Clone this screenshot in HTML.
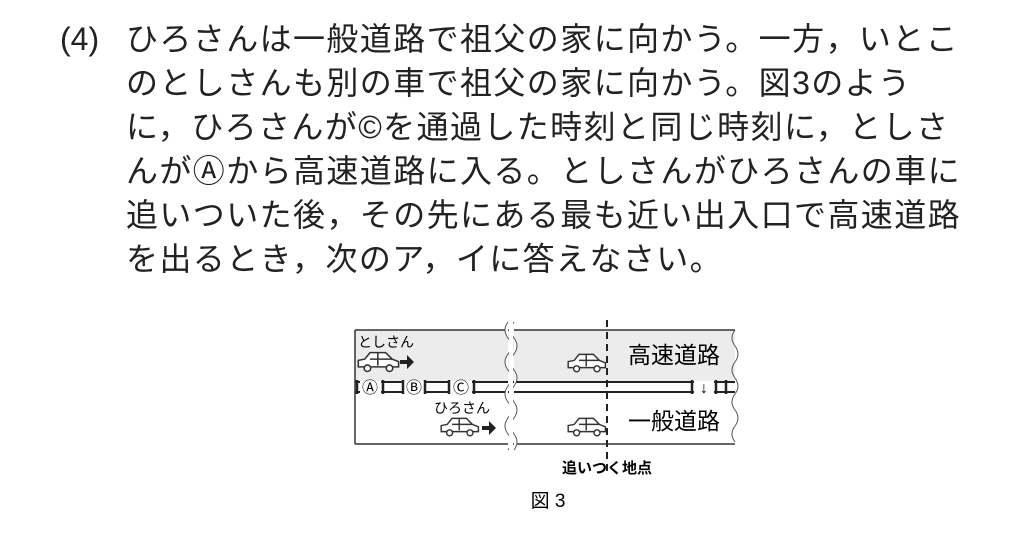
<!DOCTYPE html>
<html><head><meta charset="utf-8"><style>
body{margin:0;width:1024px;height:533px;background:#fff;overflow:hidden;position:relative;font-family:"Liberation Sans","Noto Sans CJK JP",sans-serif;color:#222}
.t{position:absolute;left:126px;font-size:32px;line-height:44px;top:17px;white-space:nowrap;letter-spacing:1.4px}
.n{position:absolute;left:60px;top:17px;font-size:32px;line-height:44px}
</style></head><body>
<div class="n">(4)</div>
<div class="t">ひろさんは一般道路で祖父の家に向かう。一方，いとこ<br>のとしさんも別の車で祖父の家に向かう。図3のよう<br>に，ひろさんが©を通過した時刻と同じ時刻に，としさ<br>んがⒶから高速道路に入る。としさんがひろさんの車に<br>追いついた後，その先にある最も近い出入口で高速道路<br>を出るとき，次のア，イに答えなさい。</div>
<svg width="1024" height="533" style="position:absolute;left:0;top:0" font-family="Liberation Sans,Noto Sans CJK JP,sans-serif">
<rect x="355" y="330" width="380" height="51" fill="#ececec"/>
<rect x="355" y="392" width="380" height="52" fill="#fff"/>
<path d="M355 330H735M355 444H735M355 330V444" stroke="#333" stroke-width="1.5" fill="none"/>
<path d="M355 382H735M355 392H735" stroke="#222" stroke-width="2" fill="none"/>
<g fill="#fff" stroke="none"><rect x="360" y="381" width="21" height="12"/><rect x="404" y="381" width="20" height="12"/><rect x="450" y="381" width="22" height="12"/><rect x="694" y="381" width="20" height="12"/></g>
<g stroke="#222" stroke-width="2.5"><path d="M357 380V394M383 380V394M403 380V394M425 380V394M449 380V394M474 380V394M692 380V394M716 380V394M726 380V394"/></g>
<g font-size="16" text-anchor="middle"><text x="370" y="393">Ⓐ</text><text x="414" y="393">Ⓑ</text><text x="461" y="393">Ⓒ</text><text x="704" y="393">↓</text></g>
<path d="M508 322 q-6 8 0 16 q6 8 0 16 q-6 8 0 16 q6 8 0 16 q-6 8 0 16 q6 8 0 16 q-6 8 0 16 q6 8 0 16 M514 322 q-6 8 0 16 q6 8 0 16 q-6 8 0 16 q6 8 0 16 q-6 8 0 16 q6 8 0 16 q-6 8 0 16 q6 8 0 16" stroke="#555" stroke-width="1" fill="#fff"/>
<rect x="509" y="322" width="4" height="130" fill="#fff"/>
<path d="M735 330 q-6 8 0 16 q6 8 0 16 q-6 8 0 16 q6 8 0 16 q-6 8 0 16 q6 8 0 16 q-6 8 0 16" stroke="#555" stroke-width="1" fill="none"/>
<path d="M607 320V475" stroke="#222" stroke-width="2" stroke-dasharray="7,5"/>
<g font-size="14"><text x="358" y="347">としさん</text><text x="434" y="413">ひろさん</text></g>
<g font-size="23"><text x="628" y="363">高速道路</text><text x="628" y="429">一般道路</text></g>
<g fill="#fff" stroke="#333" stroke-width="1.2">
<g transform="translate(357,350) scale(1.3)"><path d="M1 13V8L6 7L10 2H22L27 7L32 9V13Z"/><path d="M16 2V12M10 7H27"/><circle cx="8" cy="14" r="2.5"/><circle cx="25" cy="14" r="2.5"/></g>
<g transform="translate(567,352) scale(1.2)"><path d="M1 13V8L6 7L10 2H22L27 7L32 9V13Z"/><path d="M16 2V12M10 7H27"/><circle cx="8" cy="14" r="2.5"/><circle cx="25" cy="14" r="2.5"/></g>
<g transform="translate(440,416) scale(1.2)"><path d="M1 13V8L6 7L10 2H22L27 7L32 9V13Z"/><path d="M16 2V12M10 7H27"/><circle cx="8" cy="14" r="2.5"/><circle cx="25" cy="14" r="2.5"/></g>
<g transform="translate(567,416) scale(1.2)"><path d="M1 13V8L6 7L10 2H22L27 7L32 9V13Z"/><path d="M16 2V12M10 7H27"/><circle cx="8" cy="14" r="2.5"/><circle cx="25" cy="14" r="2.5"/></g>
</g>
<g fill="#222"><path d="M400 360h7v-5l7 7l-7 7v-5h-7z"/><path d="M482 426h7v-5l7 7l-7 7v-5h-7z"/></g>
<text x="607" y="473" font-size="15" text-anchor="middle" font-weight="bold">追いつく地点</text>
<text x="548" y="507" font-size="19" text-anchor="middle">図 3</text>
</svg>
</body></html>
